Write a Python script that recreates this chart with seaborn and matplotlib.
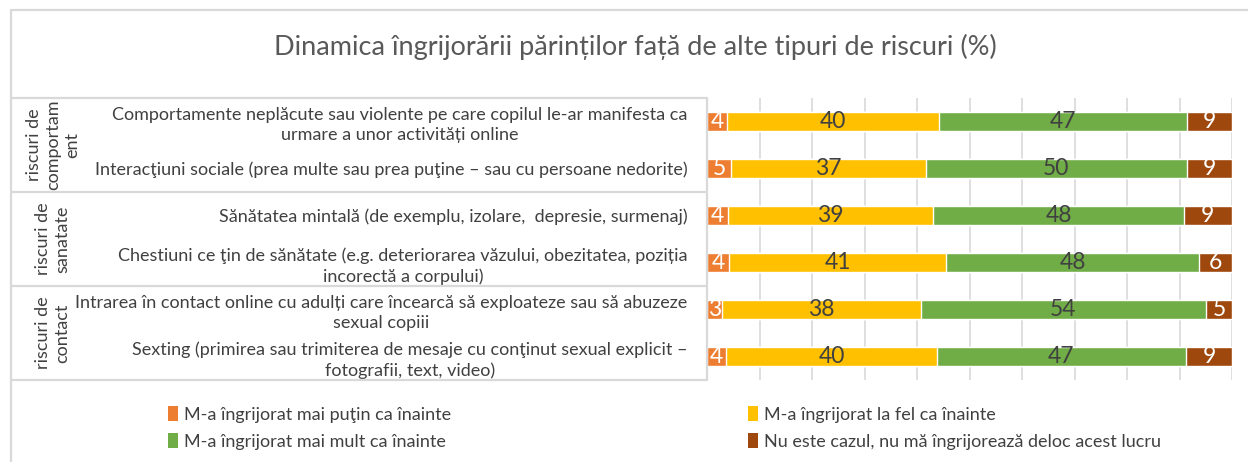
import matplotlib
matplotlib.use("Agg")

import numpy as np
import pandas as pd
import matplotlib.pyplot as plt
import matplotlib.transforms as mtransforms
from matplotlib.lines import Line2D
from matplotlib.patches import Patch
import seaborn as sns


# =========================================================
# DATE
# =========================================================
categorii = [
    "Comportamente neplăcute sau violente pe care copilul le-ar manifesta ca\nurmare a unor activități online",
    "Interacţiuni sociale (prea multe sau prea puţine – sau cu persoane nedorite)",
    "Sănătatea mintală (de exemplu, izolare,  depresie, surmenaj)",
    "Chestiuni ce ţin de sănătate (e.g. deteriorarea văzului, obezitatea, poziția\nincorectă a corpului)",
    "Intrarea în contact online cu adulți care încearcă să exploateze sau să abuzeze\nsexual copiii",
    "Sexting (primirea sau trimiterea de mesaje cu conţinut sexual explicit –\nfotografii, text, video)",
]

grupuri = ["riscuri de\ncomportam\nent", "riscuri de\nsanatate", "riscuri de\ncontact"]
grup_limite = [(0, 1), (2, 3), (4, 5)]

serii = [
    "M-a îngrijorat mai puţin ca înainte",
    "M-a îngrijorat la fel ca înainte",
    "M-a îngrijorat mai mult ca înainte",
    "Nu este cazul, nu mă îngrijorează deloc acest lucru",
]

mai_putin = [3.8, 4.6, 4.0, 4.2, 2.9, 3.6]
la_fel = [40.3, 37.1, 39.1, 41.4, 37.8, 40.2]
mai_mult = [47.3, 49.7, 47.7, 48.1, 54.4, 47.4]
nu_e_cazul = [8.6, 8.6, 9.2, 6.3, 4.9, 8.8]

culori = ["#ED7D31", "#FFC000", "#70AD47", "#9E480E"]
culori_text = ["white", "#404040", "#404040", "white"]

titlu = "Dinamica îngrijorării părinților față de alte tipuri de riscuri (%)"


# =========================================================
# PREGATIRE
# =========================================================
valori = np.array([mai_putin, la_fel, mai_mult, nu_e_cazul])
cumulat = valori.cumsum(axis=0)

df = pd.DataFrame({"categorie": categorii})
for i, s in enumerate(serii):
    df[f"cum_{i}"] = cumulat[i]

sns.set_theme(style="white")
plt.rcParams["font.family"] = ["Lato", "DejaVu Sans"]

W, H = 1248, 462
fig = plt.figure(figsize=(W / 100, H / 100), dpi=100)

x0, x1 = 707, 1232
y0, y1 = 98, 380
ax = fig.add_axes([x0 / W, 1 - y1 / H, (x1 - x0) / W, (y1 - y0) / H])

# stivuire: se deseneaza de la total spre prima serie
for i in reversed(range(len(serii))):
    sns.barplot(
        data=df, x=f"cum_{i}", y="categorie", orient="h",
        color=culori[i], width=0.42, saturation=1, ax=ax,
    )

ax.set_xlim(0, 100)
ax.set_ylim(len(categorii) - 0.5, -0.5)
ax.set_xticks(np.arange(0, 101, 10))
ax.set_xticklabels([])
ax.grid(axis="x", color="#d9d9d9", lw=1.2)
ax.set_axisbelow(True)
for sp in ax.spines.values():
    sp.set_visible(False)
ax.set_xlabel("")
ax.set_ylabel("")
ax.tick_params(axis="both", length=0)
ax.tick_params(axis="y", pad=14, labelsize=13, labelcolor="#404040")
for lbl in ax.get_yticklabels():
    lbl.set_multialignment("center")
    lbl.set_linespacing(1.3)

# etichete de date
for i in range(len(serii)):
    start = cumulat[i] - valori[i]
    for j, v in enumerate(valori[i]):
        ax.text(start[j] + v / 2, j, f"{v:.0f}", ha="center", va="center",
                fontsize=16.5, color=culori_text[i])

# =========================================================
# TABEL (grupuri)
# =========================================================
trans = mtransforms.blended_transform_factory(ax.transAxes, ax.transData)
stanga = (11 - x0) / (x1 - x0)
linie = dict(color="#d9d9d9", lw=1.6, clip_on=False, transform=trans)

limite = [-0.5] + [b + 0.5 for _, b in grup_limite]
for b in limite:
    ax.plot([stanga, 0], [b, b], **linie)
ax.plot([0, 0], [limite[0], limite[-1]], **linie)

for g, (a, b) in zip(grupuri, grup_limite):
    ax.text((53 - x0) / (x1 - x0), (a + b) / 2, g, transform=trans,
            rotation=90, ha="center", va="center", fontsize=13,
            color="#404040", multialignment="center", linespacing=1.25)

# chenar exterior
fig.add_artist(Line2D([11 / W, 1], [1 - 10 / H, 1 - 10 / H], color="#d9d9d9", lw=1.6))
fig.add_artist(Line2D([11 / W, 11 / W], [0, 1 - 10 / H], color="#d9d9d9", lw=1.6))

# titlu
fig.text(635 / W, 1 - 47 / H, titlu, ha="center", va="center",
         fontsize=19.5, color="#595959")

# legenda
handles = [Patch(facecolor=c, edgecolor="none") for c in culori]
ordine = [0, 2, 1, 3]
fig.legend(
    [handles[k] for k in ordine], [serii[k] for k in ordine],
    ncol=2, loc="upper left", bbox_to_anchor=(152 / W, 1 - 390 / H),
    frameon=False, fontsize=13, handlelength=0.55, handleheight=0.9,
    handletextpad=0.35, columnspacing=16.4, labelspacing=0.57,
    labelcolor="#404040",
)

fig.savefig("out.png", dpi=100)
